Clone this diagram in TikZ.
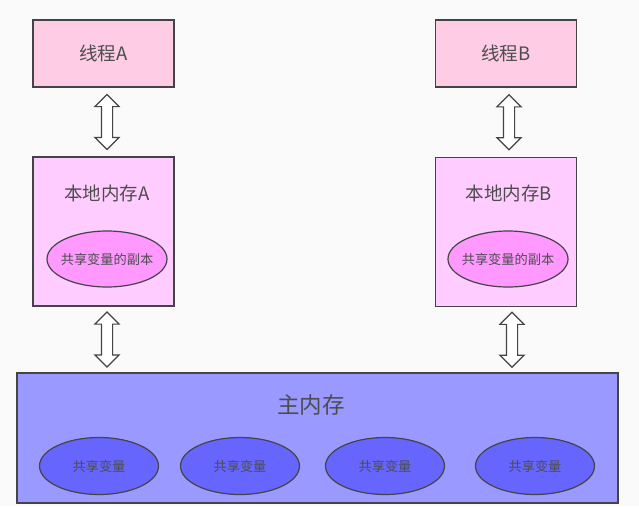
\documentclass[tikz,border=0pt]{standalone}
\usepackage{fontspec}
\setmainfont{Noto Sans CJK SC}
\usetikzlibrary{shapes.geometric,shapes.arrows,positioning}
\definecolor{edge}{HTML}{444444}
\definecolor{txt}{HTML}{4D4D4D}
\definecolor{threadfill}{HTML}{FFCCE5}
\definecolor{localfill}{HTML}{FFCCFF}
\definecolor{copyfill}{HTML}{FF99FF}
\definecolor{mainfill}{HTML}{9999FF}
\definecolor{varfill}{HTML}{6666FF}
\begin{document}
\begin{tikzpicture}
[x=1pt, y=-1pt, font=\fontsize{18.5}{20}\selectfont, text=txt]
\tikzstyle{thread}=[rectangle, draw=edge, line width=1.3pt, fill=threadfill, minimum width=141pt, minimum height=67pt]
\tikzstyle{local}=[rectangle, draw=edge, line width=1.3pt, fill=localfill, minimum width=141pt, minimum height=149pt]
\tikzstyle{copy}=[ellipse, draw=edge, line width=1.2pt, fill=copyfill, minimum width=120pt, minimum height=56pt, inner xsep=-5pt, inner ysep=0pt, font=\fontsize{13.2}{15}\selectfont]
\tikzstyle{var}=[ellipse, draw=edge, line width=1.2pt, fill=varfill, minimum width=119pt, minimum height=57pt, inner sep=0pt, font=\fontsize{13.2}{15}\selectfont]
\tikzstyle{dblarrow}=[double arrow, draw=edge, line width=1.1pt, fill=white, rotate=90, inner sep=5pt, minimum height=55pt, minimum width=23pt, double arrow head extend=6.5pt, double arrow head indent=0pt]
\useasboundingbox[fill=white!98!black] (0,0) rectangle (639,506);

\node[thread]	(TA)	at (103.5,53.5)		{线程A};
\node[thread]	(TB)	at (506,53.5)		{线程B};

\node[local]	(LA)	at (103.5,231.5)	{};
\node[local]	(LB)	at (506,232)		{};
\node			(LAt)	at (107,193)		{本地内存A};
\node			(LBt)	at (509,193)		{本地内存B};
\node[copy]		(CA)	at (107,259)		{共享变量的副本};
\node[copy]		(CB)	at (508,259)		{共享变量的副本};

\node[rectangle, draw=edge, line width=1.3pt, fill=mainfill, minimum width=601pt, minimum height=130pt]	(M)	at (317.5,438)	{};
\node[font=\fontsize{22.5}{24}\selectfont]	(Mt)	at (311,405)	{主内存};
\node[var]	(V1)	at (99,466)		{共享变量};
\node[var]	(V2)	at (240,466)	{共享变量};
\node[var]	(V3)	at (385,466)	{共享变量};
\node[var]	(V4)	at (535,466)	{共享变量};

\path ([xshift=3.5pt]TA.south) -- node[dblarrow] (A1) {} ([xshift=3.5pt]LA.north);
\path ([xshift=3pt]TB.south) -- node[dblarrow] (B1) {} ([xshift=3pt]LB.north);
\path ([xshift=3.5pt]LA.south) -- node[dblarrow] (A2) {} ([xshift=3.5pt]LA.south |- M.north);
\path ([xshift=6pt]LB.south) -- node[dblarrow] (B2) {} ([xshift=6pt]LB.south |- M.north);
\end{tikzpicture}
\end{document}
